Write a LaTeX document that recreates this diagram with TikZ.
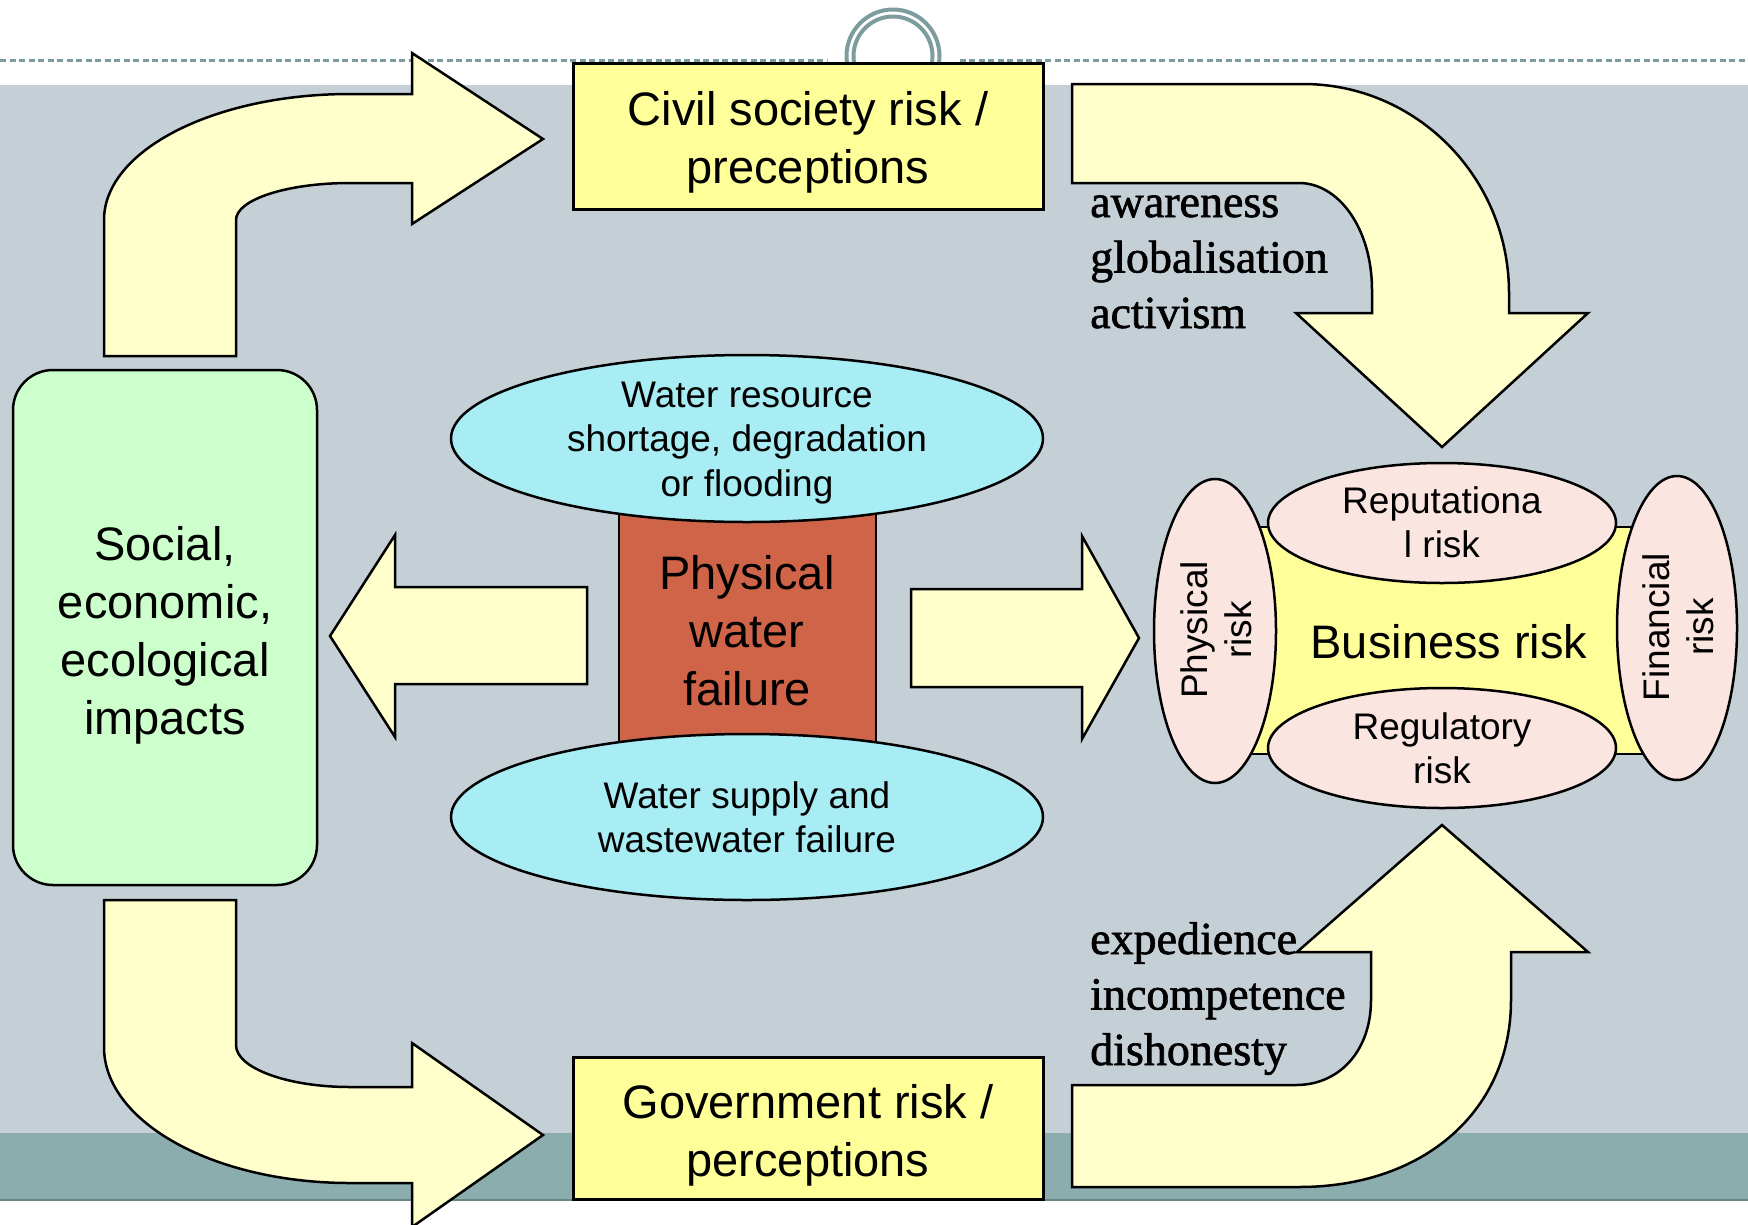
\documentclass[tikz,border=0pt]{standalone}
\usepackage{fontspec}
\setmainfont{Liberation Sans}
\newfontfamily\wordserif[FakeBold=1.4]{Liberation Serif}
\definecolor{bggray}{RGB}{197,208,214}
\definecolor{bandteal}{RGB}{139,173,174}
\definecolor{ringteal}{RGB}{125,156,157}
\definecolor{arrowfill}{RGB}{255,255,204}
\definecolor{boxyellow}{RGB}{255,255,153}
\definecolor{mint}{RGB}{204,255,204}
\definecolor{aqua}{RGB}{168,236,244}
\definecolor{brick}{RGB}{208,100,73}
\definecolor{blush}{RGB}{250,229,224}
% centred and left-aligned multi-line labels, anchored on the first baseline
\newcommand\ctext[1]{\begin{tabular}[t]{@{}c@{}}#1\end{tabular}}
\newcommand\ltext[1]{\begin{tabular}[t]{@{}l@{}}#1\end{tabular}}
\begin{document}
\begin{tikzpicture}[x=1pt,y=-1pt,
  outline/.style={draw=black,line width=2.5pt,line join=miter},
  blockarrow/.style={outline,fill=arrowfill},
  label/.style={inner sep=0pt,anchor=base},
  big/.style={label,font=\fontsize{47}{58}\selectfont},
  small/.style={label,font=\fontsize{37}{44.5}\selectfont},
  words/.style={inner sep=0pt,anchor=base west,font=\wordserif\fontsize{46}{55.5}\selectfont}]
\useasboundingbox (0,0) rectangle (1748,1224);
\clip (0,0) rectangle (1748,1224);

% page background: white header, grey body, teal footer band
\fill[white] (0,0) rectangle (1748,1224);
\fill[bggray] (0,85) rectangle (1748,1133);
\fill[bandteal] (0,1133) rectangle (1748,1200);
\draw[ringteal!85!black,line width=1.5pt] (0,1200) -- (1748,1200);

% dashed rule with the ring on top
\draw[ringteal,line width=3pt,dash pattern=on 6pt off 3.5pt] (0,60) -- (1748,60);
\fill[white] (893,56) circle (65.5);
\draw[ringteal,line width=4pt] (893,56) circle (46.5);
\draw[ringteal,line width=4pt] (893,56) circle (39.5);

% top-left bent arrow
\draw[blockarrow] (104,356) -- (104,220)
  .. controls (104,150.4) and (214.2,94) .. (350,94) -- (412,94) -- (412,53)
  -- (543,139) -- (412,224) -- (412,183) -- (350,183)
  .. controls (287,183) and (236,199.6) .. (236,220) -- (236,356) -- cycle;

% bottom-left bent arrow
\draw[blockarrow] (104,900) -- (104,1047)
  .. controls (104,1122) and (214,1183) .. (350,1183) -- (412,1183) -- (412,1227)
  -- (543,1135) -- (412,1043) -- (412,1087) -- (350,1087)
  .. controls (287,1087) and (236,1068) .. (236,1045) -- (236,900) -- cycle;

% top-right bent arrow
\draw[blockarrow] (1072,84) -- (1303,84)
  .. controls (1417,84) and (1509,178) .. (1509,293) -- (1509,313) -- (1588,313)
  -- (1442,447) -- (1296,313) -- (1372,313) -- (1372,290)
  .. controls (1372,229) and (1339,183) .. (1299,183) -- (1072,183) -- cycle;

% bottom-right bent arrow
\draw[blockarrow] (1072,1187) -- (1299,1187)
  .. controls (1425,1187) and (1511,1110) .. (1511,1000) -- (1511,952) -- (1588,952)
  -- (1442,825) -- (1297,952) -- (1371,952) -- (1371,1000)
  .. controls (1371,1050) and (1340,1085) .. (1296,1085) -- (1072,1085) -- cycle;

% straight arrows out of the central column
\draw[blockarrow] (587,587) -- (395,587) -- (395,535) -- (330,636)
  -- (395,737) -- (395,684) -- (587,684) -- cycle;
\draw[blockarrow] (911,589) -- (1082,589) -- (1082,536) -- (1139,638)
  -- (1082,739) -- (1082,687) -- (911,687) -- cycle;

% risk perception boxes
\draw[outline,line width=3pt,fill=boxyellow] (573,63) rectangle (1043,209);
\node[big] (civil) at (808,125) {\ctext{Civil society risk /\\preceptions}};
\draw[outline,line width=3pt,fill=boxyellow] (573,1057) rectangle (1043,1199);
\node[big] (govt) at (808,1118) {\ctext{Government risk /\\perceptions}};

% impacts box
\draw[outline,fill=mint,rounded corners=40pt] (13,370) rectangle (317,885);
\node[big] (impacts) at (165,560) {\ctext{Social,\\economic,\\ecological\\impacts}};

% central column: physical water failure between two causes
\draw[outline,fill=brick] (619,505) rectangle (876,750);
\draw[outline,fill=aqua] (747,438.5) ellipse [x radius=296,y radius=83.5];
\draw[outline,fill=aqua] (747,817) ellipse [x radius=296,y radius=83];
\node[small] (resource) at (747,407) {\ctext{Water resource\\shortage, degradation\\or flooding}};
\node[big] (physfail) at (747,589) {\ctext{Physical\\water\\failure}};
\node[small] (supply) at (747,808) {\ctext{Water supply and\\wastewater failure}};

% business risk cluster
\draw[outline,fill=boxyellow] (1251,527) rectangle (1642,754);
\draw[outline,fill=blush] (1215,631) ellipse [x radius=61,y radius=152];
\draw[outline,fill=blush] (1677,628) ellipse [x radius=60,y radius=152];
\draw[outline,fill=blush] (1442,523) ellipse [x radius=174,y radius=60];
\draw[outline,fill=blush] (1442,748) ellipse [x radius=174,y radius=60];
\node[big] (business) at (1449,658) {Business risk};
\node[small] (reput) at (1442,513) {\ctext{Reputationa\\l risk}};
\node[small] (regul) at (1442,739) {\ctext{Regulatory\\risk}};
\node[small,rotate=90] (physrisk) at (1207,630) {\ctext{Physical\\risk}};
\node[small,rotate=90] (finrisk) at (1669,627) {\ctext{Financial\\risk}};

% drivers
\node[words] (civdrivers) at (1090,217) {\ltext{awareness\\globalisation\\activism}};
\node[words] (govdrivers) at (1090,954) {\ltext{expedience\\incompetence\\dishonesty}};
\end{tikzpicture}
\end{document}
